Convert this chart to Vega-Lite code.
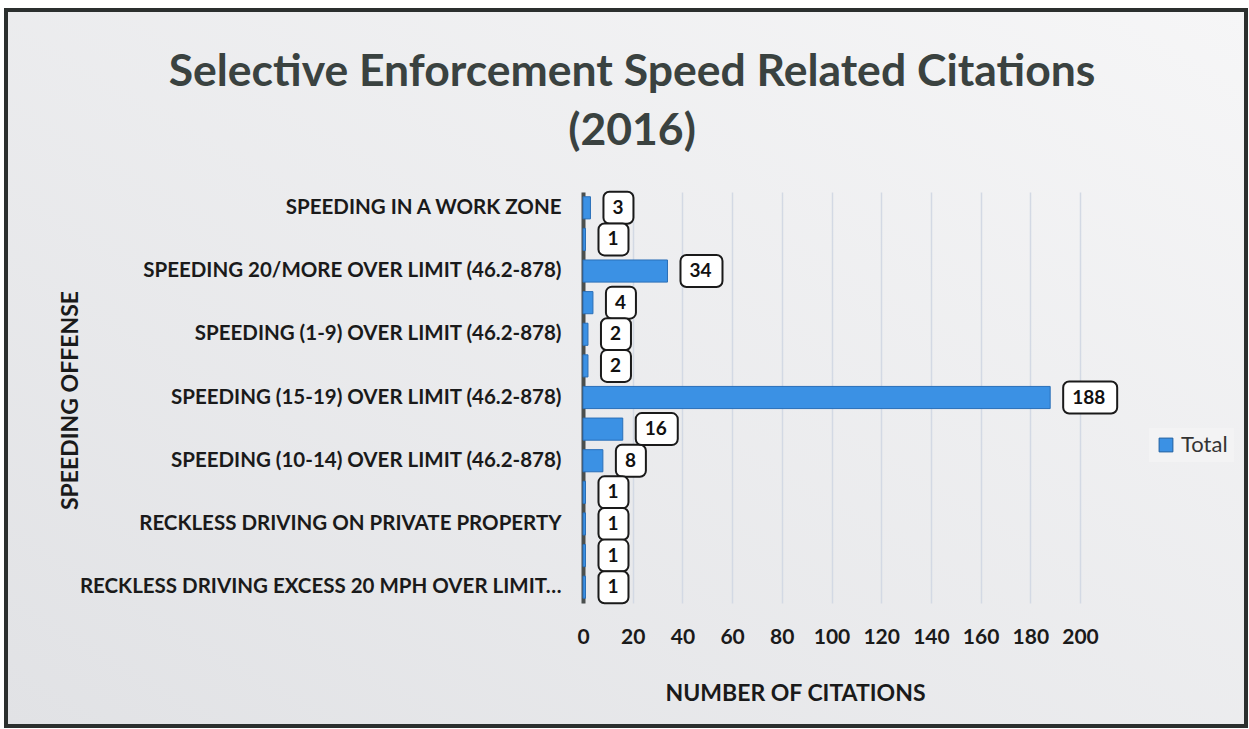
{
  "$schema": "https://vega.github.io/schema/vega-lite/v6.json",
  "width": 1240,
  "height": 716,
  "autosize": {"type": "none"},
  "padding": {"left": 6, "top": 10, "right": 3, "bottom": 3},
  "background": "#ffffff",
  "config": {
    "font": "Lato",
    "view": {
      "stroke": "#2b2f2e",
      "strokeWidth": 4,
      "fill": {"gradient": "linear", "x1": 0, "y1": 1, "x2": 1, "y2": 0, "stops": [{"offset": 0, "color": "#e1e2e5"}, {"offset": 1, "color": "#f6f6f7"}]}
    }
  },
  "title": {
    "text": ["Selective Enforcement Speed Related Citations", "(2016)"],
    "font": "Lato",
    "fontSize": 44.5,
    "fontWeight": "bold",
    "color": "#3a4240",
    "lineHeight": 59,
    "anchor": "middle",
    "baseline": "top",
    "offset": 0,
    "dx": 6,
    "dy": 144
  },
  "data": {
    "values": [
      {"Offense": "SPEEDING IN A WORK ZONE", "Total": 3},
      {"Offense": "SPEEDING 20/MORE OVER LIMIT (46.2-882)", "Total": 1},
      {"Offense": "SPEEDING 20/MORE OVER LIMIT (46.2-878)", "Total": 34},
      {"Offense": "SPEEDING (1-9) OVER LIMIT (46.2-882)", "Total": 4},
      {"Offense": "SPEEDING (1-9) OVER LIMIT (46.2-878)", "Total": 2},
      {"Offense": "SPEEDING (15-19) OVER LIMIT (46.2-882)", "Total": 2},
      {"Offense": "SPEEDING (15-19) OVER LIMIT (46.2-878)", "Total": 188},
      {"Offense": "SPEEDING (10-14) OVER LIMIT (46.2-882)", "Total": 16},
      {"Offense": "SPEEDING (10-14) OVER LIMIT (46.2-878)", "Total": 8},
      {"Offense": "RECKLESS DRIVING SPEED 80+ MPH", "Total": 1},
      {"Offense": "RECKLESS DRIVING ON PRIVATE PROPERTY", "Total": 1},
      {"Offense": "RECKLESS DRIVING GENERAL", "Total": 1},
      {"Offense": "RECKLESS DRIVING EXCESS 20 MPH OVER LIMIT…", "Total": 1}
    ]
  },
  "encoding": {
    "y": {
      "field": "Offense",
      "type": "nominal",
      "sort": null,
      "scale": {"range": [182, 593], "paddingInner": 0.3, "paddingOuter": 0.15},
      "axis": {
        "values": [
          "SPEEDING IN A WORK ZONE",
          "SPEEDING 20/MORE OVER LIMIT (46.2-878)",
          "SPEEDING (1-9) OVER LIMIT (46.2-878)",
          "SPEEDING (15-19) OVER LIMIT (46.2-878)",
          "SPEEDING (10-14) OVER LIMIT (46.2-878)",
          "RECKLESS DRIVING ON PRIVATE PROPERTY",
          "RECKLESS DRIVING EXCESS 20 MPH OVER LIMIT…"
        ],
        "offset": -577,
        "ticks": false,
        "grid": false,
        "labelPadding": 22,
        "labelFont": "Lato",
        "labelFontSize": 20.5,
        "labelFontWeight": "bold",
        "labelColor": "#1a1a1a",
        "labelLimit": 700,
        "domainColor": "#4a4f4e",
        "domainWidth": 4,
        "title": "SPEEDING OFFENSE",
        "titleFont": "Lato",
        "titleFontSize": 23,
        "titleFontWeight": "bold",
        "titleColor": "#1a1a1a",
        "titleAngle": -90,
        "titleAlign": "center",
        "titleBaseline": "middle",
        "titleX": -513,
        "titleY": 390
      }
    },
    "x": {
      "field": "Total",
      "type": "quantitative",
      "scale": {"domain": [0, 200], "range": [577, 1074], "nice": false, "zero": true},
      "axis": {
        "orient": "top",
        "values": [0, 20, 40, 60, 80, 100, 120, 140, 160, 180, 200],
        "offset": -627,
        "grid": true,
        "gridColor": "#d3d9e4",
        "gridWidth": 1.5,
        "domain": false,
        "ticks": false,
        "labelFlush": false,
        "labelPadding": 0,
        "labelBaseline": "middle",
        "labelFont": "Lato",
        "labelFontSize": 21,
        "labelFontWeight": "bold",
        "labelColor": "#1a1a1a",
        "title": "NUMBER OF CITATIONS",
        "titleFont": "Lato",
        "titleFontSize": 23,
        "titleFontWeight": "bold",
        "titleColor": "#1a1a1a",
        "titleAlign": "center",
        "titleBaseline": "middle",
        "titleX": 789,
        "titleY": 56
      }
    }
  },
  "layer": [
    {
      "mark": {"type": "bar", "stroke": "#2a6fb8", "strokeWidth": 1},
      "encoding": {
        "color": {
          "datum": "Total",
          "scale": {"range": ["#3b91e4"]},
          "legend": {
            "title": null,
            "orient": "none",
            "legendX": 1143,
            "legendY": 418,
            "symbolType": "square",
            "symbolSize": 190,
            "symbolStrokeColor": "#1f5fa0",
            "symbolStrokeWidth": 1,
            "labelFont": "Lato",
            "labelFontSize": 22,
            "labelColor": "#333333",
            "fillColor": "#f3f3f4",
            "padding": 6
          }
        }
      }
    },
    {
      "transform": [{"filter": "datum.Total < 10"}],
      "mark": {"type": "rect", "fill": "#ffffff", "stroke": "#1a1a1a", "strokeWidth": 2, "cornerRadius": 6, "xOffset": 13, "x2Offset": 43, "height": 32},
      "encoding": {"x2": {"field": "Total"}}
    },
    {
      "transform": [{"filter": "datum.Total >= 10 && datum.Total < 100"}],
      "mark": {"type": "rect", "fill": "#ffffff", "stroke": "#1a1a1a", "strokeWidth": 2, "cornerRadius": 6, "xOffset": 13, "x2Offset": 55, "height": 32},
      "encoding": {"x2": {"field": "Total"}}
    },
    {
      "transform": [{"filter": "datum.Total >= 100"}],
      "mark": {"type": "rect", "fill": "#ffffff", "stroke": "#1a1a1a", "strokeWidth": 2, "cornerRadius": 6, "xOffset": 13, "x2Offset": 67, "height": 32},
      "encoding": {"x2": {"field": "Total"}}
    },
    {
      "mark": {"type": "text", "align": "left", "baseline": "middle", "dx": 22, "font": "Lato", "fontSize": 19, "fontWeight": "bold", "color": "#111111"},
      "encoding": {"text": {"field": "Total", "type": "quantitative"}}
    }
  ]
}
